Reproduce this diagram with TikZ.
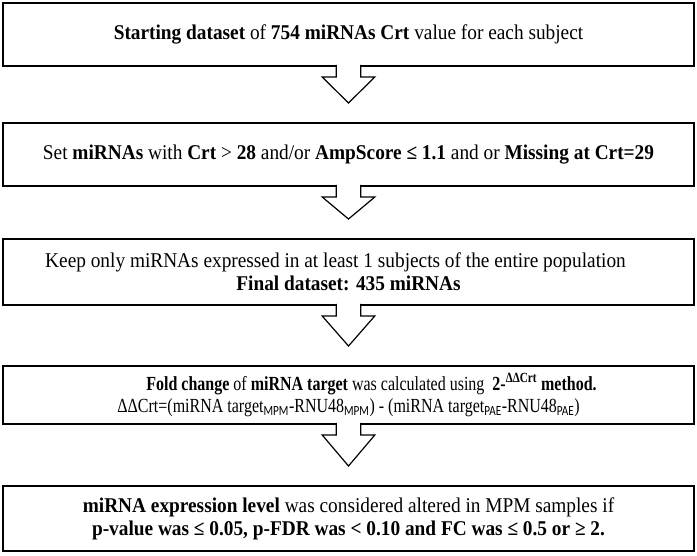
\documentclass[tikz,border=0pt]{standalone}
\usepackage{fontspec}
\setmainfont{Liberation Serif}[FakeStretch=0.92]
\newfontfamily\subfont{Carlito}[FakeStretch=0.92]
\newfontfamily\narrowserif{Liberation Serif}[FakeStretch=0.8]
\newfontfamily\narrowsub{Carlito}[FakeStretch=0.8]
\usetikzlibrary{positioning, calc}

\begin{document}
\begin{tikzpicture}[
  stage/.style={draw=black, line width=2.2pt, fill=white, minimum width=690.5pt,
                inner sep=2pt, align=center, font=\fontsize{21}{23}\selectfont},
  hollow/.style={draw=black, line width=1.2pt, fill=white, line join=miter},
]
\useasboundingbox (0,0) rectangle (697pt,-555pt);

\node[stage, minimum height=62.8pt] (start) at (348.5pt,-34.5pt)
  {\textbf{Starting dataset} of \textbf{754 miRNAs Crt} value for each subject};
\node[stage, minimum height=62.8pt, below=55pt of start] (filter)
  {Set \textbf{miRNAs} with \textbf{Crt} > \textbf{28} and/or \textbf{AmpScore ≤ 1.1} and or \textbf{Missing at Crt=29}};
\node[stage, minimum height=65.8pt, below=51pt of filter] (keep)
  {Keep only miRNAs expressed in at least 1 subjects of the entire population\hspace*{26pt}\\
   \textbf{Final dataset: 435 miRNAs}};
\node[stage, minimum height=57.8pt, below=59pt of keep, font=\fontsize{20}{22}\narrowserif] (fold)
  {\hspace*{46pt}\textbf{Fold change} of \textbf{miRNA target} was calculated using\ \ \textbf{2-\textsuperscript{ΔΔCrt} method.}\\
   ΔΔCrt=(miRNA target\textsubscript{\narrowsub MPM}-RNU48\textsubscript{\narrowsub MPM}) - (miRNA target\textsubscript{\narrowsub PAE}-RNU48\textsubscript{\narrowsub PAE})};
\node[stage, minimum height=64.8pt, below=60pt of fold] (signif)
  {\textbf{miRNA expression level} was considered altered in MPM samples if\\
   \textbf{p-value was ≤ 0.05, p-FDR was < 0.10 and FC was ≤ 0.5 or ≥ 2.}};

% hollow block arrows, open into the box above
\foreach \a/\b in {start/filter, filter/keep, keep/fold, fold/signif} {
  \coordinate (base) at ($(\a.south)+(0,2.2pt)$);
  \coordinate (tip) at ($(\b.north)+(0,19pt)$);
  \fill[white] ($(base)+(-11.7pt,0.3pt)$) rectangle ($(base)+(11.7pt,-12pt)$);
  \draw[hollow] ($(base)+(-12.3pt,0)$) -- ++(0,-12.2pt) -- ++(-14pt,0) -- (tip)
    -- ($(base)+(26.3pt,-12.2pt)$) -- ++(-14pt,0) -- ++(0,12.2pt);
}
\end{tikzpicture}
\end{document}
